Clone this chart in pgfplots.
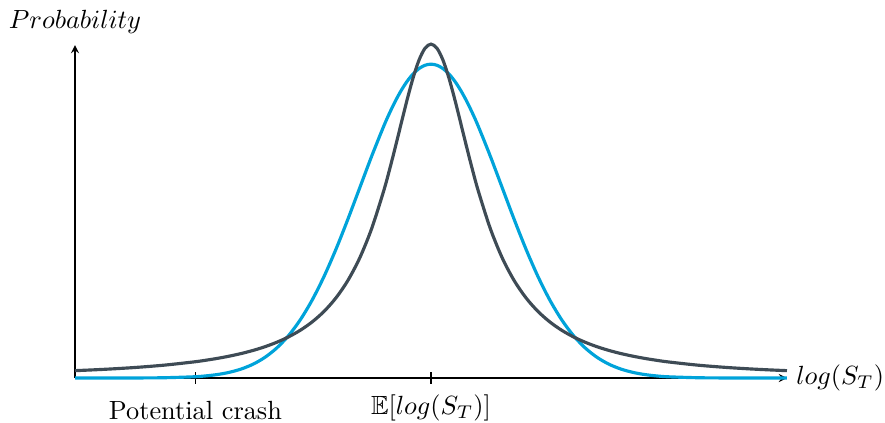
\documentclass[border=0pt]{standalone}
\usepackage{pgfplots}
\usepackage{pgfplotstable}
\usepackage{amssymb}
\pgfplotsset{compat=1.18}

\definecolor{normalblue}{RGB}{0,163,218}
\definecolor{tailgray}{RGB}{62,75,85}

% Densities of log(S_T): normal (sigma = 1.2) and heavy-tailed Cauchy (gamma = 0.9)
\pgfplotstableread{
x     normal    cauchy
-6.0  0.000001  0.007783
-5.5  0.000009  0.009223
-5.0  0.000057  0.011100
-4.5  0.000294  0.013603
-4.0  0.001285  0.017042
-3.8  0.002209  0.018786
-3.6  0.003693  0.020805
-3.4  0.006005  0.023159
-3.2  0.009497  0.025926
-3.0  0.014607  0.029203
-2.8  0.021852  0.033119
-2.6  0.031794  0.037844
-2.4  0.044993  0.043604
-2.2  0.061926  0.050704
-2.0  0.082898  0.059559
-1.8  0.107932  0.070736
-1.6  0.136675  0.085009
-1.4  0.168332  0.103422
-1.2  0.201641  0.127324
-1.0  0.234927  0.158276
-0.8  0.266207  0.197572
-0.7  0.280438  0.220369
-0.6  0.293386  0.244854
-0.5  0.304810  0.270264
-0.4  0.314486  0.295340
-0.3  0.322223  0.318310
-0.2  0.327866  0.337034
-0.1  0.331300  0.349365
 0.0  0.332452  0.353678
 0.1  0.331300  0.349365
 0.2  0.327866  0.337034
 0.3  0.322223  0.318310
 0.4  0.314486  0.295340
 0.5  0.304810  0.270264
 0.6  0.293386  0.244854
 0.7  0.280438  0.220369
 0.8  0.266207  0.197572
 1.0  0.234927  0.158276
 1.2  0.201641  0.127324
 1.4  0.168332  0.103422
 1.6  0.136675  0.085009
 1.8  0.107932  0.070736
 2.0  0.082898  0.059559
 2.2  0.061926  0.050704
 2.4  0.044993  0.043604
 2.6  0.031794  0.037844
 2.8  0.021852  0.033119
 3.0  0.014607  0.029203
 3.2  0.009497  0.025926
 3.4  0.006005  0.023159
 3.6  0.003693  0.020805
 3.8  0.002209  0.018786
 4.0  0.001285  0.017042
 4.5  0.000294  0.013603
 5.0  0.000057  0.011100
 5.5  0.000009  0.009223
 6.0  0.000001  0.007783
}\densities

\begin{document}
\begin{tikzpicture}
\begin{axis}[
  scale only axis,
  width=270.7pt, height=126.6pt,
  xmin=-6, xmax=6, ymin=0, ymax=0.3527,
  axis lines=left,
  clip=false,
  ytick=\empty,
  xtick={-3.97}, xticklabels={Potential crash},
  extra x ticks={0}, extra x tick labels={$\mathbb{E}[log(S_T)]$},
  tick align=center,
  major tick style={black, semithick},
  xticklabel style={anchor=base, yshift=-13.8pt},
  extra x tick style={xticklabel style={yshift=2pt}},
]
\addplot[normalblue, line width=1.2pt, smooth] table[x=x, y=normal] {\densities};
\addplot[tailgray, line width=1.2pt, smooth] table[x=x, y=cauchy] {\densities};
\coordinate (O) at (rel axis cs:0,0);
\node[anchor=base, yshift=6.4pt] at (rel axis cs:0,1) {$Probability$};
\node[anchor=west] at (rel axis cs:1,0) {$log(S_T)$};
\end{axis}
\pgfresetboundingbox
\useasboundingbox (O) ++(-28.52pt,-16.73pt) rectangle ++(336.5pt,160.46pt);
\end{tikzpicture}
\end{document}
